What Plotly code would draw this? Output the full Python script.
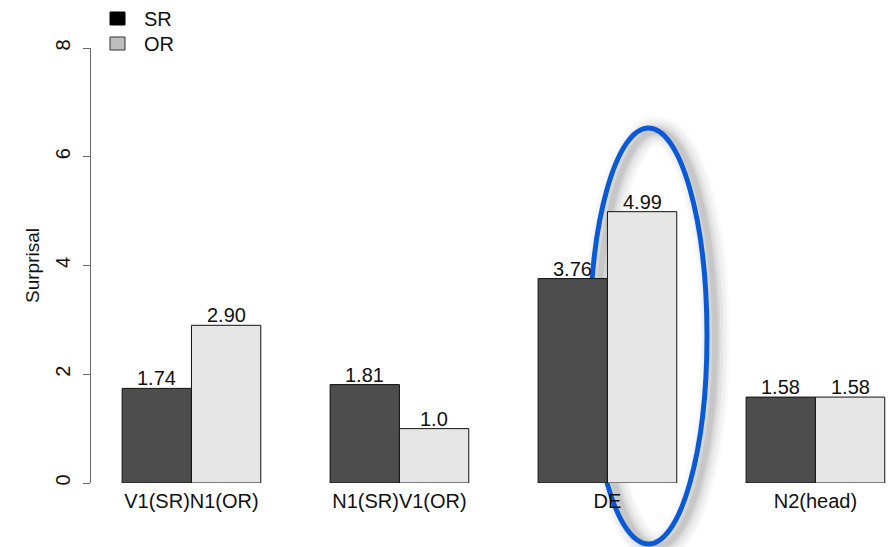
import plotly.graph_objects as go

# Surprisal per region, subject relatives (SR) vs object relatives (OR)
regions = ["V1(SR)N1(OR)", "N1(SR)V1(OR)", "DE", "N2(head)"]
sr_values = [1.74, 1.81, 3.76, 1.58]
or_values = [2.90, 1.0, 4.99, 1.58]
sr_labels = ["1.74", "1.81", "3.76", "1.58"]
or_labels = ["2.90", "1.0", "4.99", "1.58"]
y_ticks = [0, 2, 4, 6, 8]

W, H = 888, 547
ML, MR, MT, MB = 91, 0, 48, 64
PW, PH = W - ML - MR, H - MT - MB
FONT = "Liberation Sans, Arial, Helvetica, sans-serif"
FS = 20

SR_FILL = "#4d4d4d"
OR_FILL = "#e6e6e6"


def px(x):
    return (x - ML) / PW


def py(y):
    return (H - MB - y) / PH


fig = go.Figure()
fig.add_trace(go.Bar(x=regions, y=sr_values, name="SR",
                     marker=dict(color=SR_FILL, line=dict(color="#111", width=1)),
                     showlegend=False))
fig.add_trace(go.Bar(x=regions, y=or_values, name="OR",
                     marker=dict(color=OR_FILL, line=dict(color="#111", width=1)),
                     showlegend=False))

# value labels above each bar
half = 208 / 6
for cat, v, t in zip(regions, sr_values, sr_labels):
    fig.add_annotation(x=cat, y=v, text=t, xshift=-half, yshift=-3, yanchor="bottom",
                       showarrow=False, font=dict(size=FS, color="#111", family=FONT))
for cat, v, t in zip(regions, or_values, or_labels):
    fig.add_annotation(x=cat, y=v, text=t, xshift=half, yshift=-3, yanchor="bottom",
                       showarrow=False, font=dict(size=FS, color="#111", family=FONT))

shapes = []
# soft drop shadow of the highlight ring
ex0, ex1, ey0, ey1 = 590, 707, 128, 544
for w, op in [(30, 0.025), (24, 0.035), (17, 0.045), (11, 0.06), (6, 0.07)]:
    shapes.append(dict(type="circle", xref="paper", yref="paper", layer="below",
                       x0=px(ex0 + 8), x1=px(ex1 + 8), y0=py(ey1 + 3), y1=py(ey0 + 3),
                       line=dict(color=f"rgba(0,0,0,{op})", width=w)))
# blue highlight ring around the DE region
shapes.append(dict(type="circle", xref="paper", yref="paper", layer="below",
                   x0=px(ex0), x1=px(ex1), y0=py(ey1), y1=py(ey0),
                   line=dict(color="#0a5ad8", width=5)))

# legend keys
shapes.append(dict(type="rect", xref="paper", yref="paper",
                   x0=px(110), x1=px(125), y0=py(25), y1=py(12),
                   fillcolor="#000000", line=dict(color="#000", width=1)))
shapes.append(dict(type="rect", xref="paper", yref="paper",
                   x0=px(110), x1=px(125), y0=py(50), y1=py(37),
                   fillcolor="#bebebe", line=dict(color="#333", width=1)))
fig.add_annotation(xref="paper", yref="paper", x=px(142), y=py(19), text="SR",
                   xanchor="left", yanchor="middle", showarrow=False,
                   font=dict(size=FS, color="#111", family=FONT))
fig.add_annotation(xref="paper", yref="paper", x=px(142), y=py(44), text="OR",
                   xanchor="left", yanchor="middle", showarrow=False,
                   font=dict(size=FS, color="#111", family=FONT))

fig.update_layout(
    width=W, height=H,
    margin=dict(l=ML, r=MR, t=MT, b=MB, pad=0),
    paper_bgcolor="white", plot_bgcolor="rgba(0,0,0,0)",
    barmode="group", bargap=1 / 3, bargroupgap=0,
    font=dict(family=FONT, size=FS, color="#111"),
    shapes=shapes,
    xaxis=dict(range=[-0.483, 3.349], showline=False, showgrid=False, zeroline=False,
               ticks="", tickfont=dict(size=FS, family=FONT, color="#111"),
               ticklabelstandoff=4),
    yaxis=dict(range=[0, 8], tickvals=y_ticks, showline=True, linecolor="#666",
               linewidth=1, ticks="outside", ticklen=7, tickcolor="#666",
               showgrid=False, zeroline=False, tickangle=-90, ticklabelstandoff=5,
               tickfont=dict(size=FS, family=FONT, color="#111"),
               title=dict(text="Surprisal", font=dict(size=19, family=FONT, color="#111"),
                          standoff=7)),
)

fig.write_html("out.html")
